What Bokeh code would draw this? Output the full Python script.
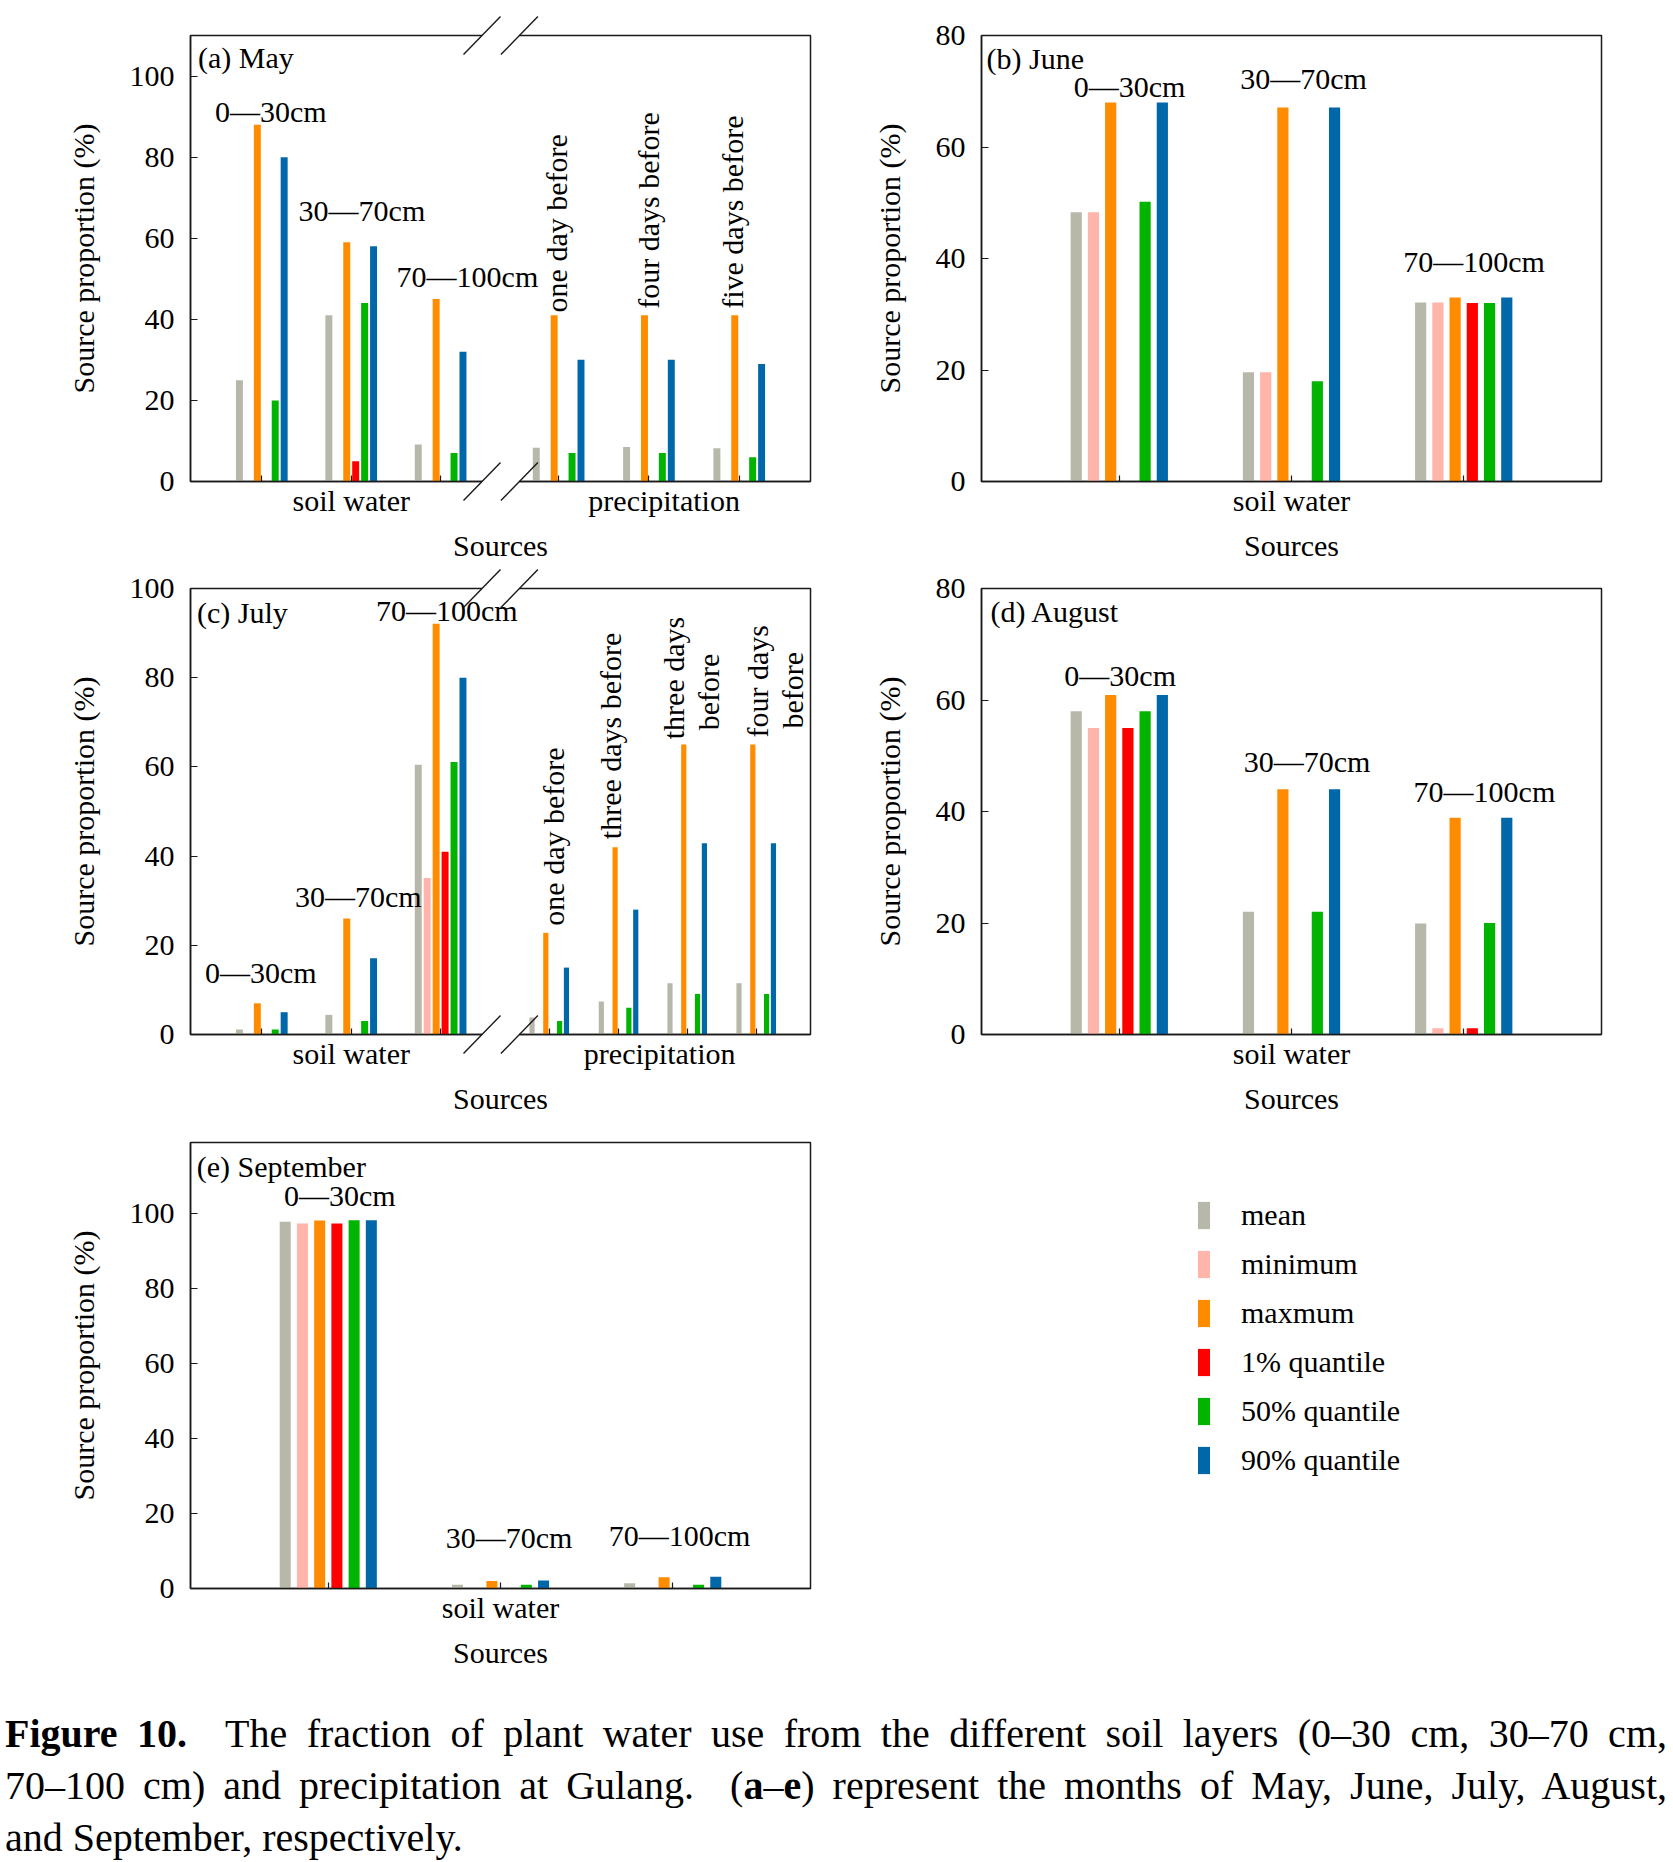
import math
from bokeh.plotting import figure
from bokeh.models import Range1d, FixedTicker, Legend, LegendItem, Div, ColumnDataSource
from bokeh.layouts import column, row
from bokeh.embed import file_html
from bokeh.resources import INLINE
from bokeh.core.properties import value

# ---------------- data ----------------
SERIES = ["mean", "minimum", "maxmum", "1% quantile", "50% quantile", "90% quantile"]
COLORS = ["#b8b8aa", "#ffb5aa", "#ff8c00", "#ff0000", "#00b400", "#0067a8"]

# (a) May
MAY_GROUPS = ["0—30cm", "30—70cm", "70—100cm", "one day before", "four days before", "five days before"]
MAY_MEAN = [25, 41, 9.1, 8.3, 8.5, 8.2]
MAY_MIN = [0, 0, 0, 0, 0, 0]
MAY_MAX = [88, 59, 45, 41, 41, 41]
MAY_Q1 = [0, 5, 0, 0, 0, 0]
MAY_Q50 = [20, 44, 7, 7, 7, 6]
MAY_Q90 = [80, 58, 32, 30, 30, 29]

# (b) June
JUN_GROUPS = ["0—30cm", "30—70cm", "70—100cm"]
JUN_MEAN = [48.3, 19.6, 32.1]
JUN_MIN = [48.3, 19.6, 32.1]
JUN_MAX = [68, 67.1, 33]
JUN_Q1 = [0, 0, 32]
JUN_Q50 = [50.2, 18, 32]
JUN_Q90 = [68, 67.1, 33]

# (c) July
JUL_GROUPS = ["0—30cm", "30—70cm", "70—100cm", "one day before", "three days before",
              "three days\nbefore", "four days\nbefore"]
JUL_MEAN = [1.1, 4.4, 60.5, 3.8, 7.4, 11.5, 11.5]
JUL_MIN = [0, 0, 35.1, 0, 0, 0, 0]
JUL_MAX = [7, 26, 92.1, 22.8, 42, 65, 65]
JUL_Q1 = [0, 0, 41, 0, 0, 0, 0]
JUL_Q50 = [1.1, 3, 61.1, 3, 6, 9.1, 9.1]
JUL_Q90 = [5, 17.1, 80, 15, 28, 42.9, 42.9]

# (d) August
AUG_GROUPS = ["0—30cm", "30—70cm", "70—100cm"]
AUG_MEAN = [58, 22, 19.9]
AUG_MIN = [55, 0, 1.1]
AUG_MAX = [60.9, 44, 38.9]
AUG_Q1 = [55, 0, 1.1]
AUG_Q50 = [58, 22, 20]
AUG_Q90 = [60.9, 44, 38.9]

# (e) September
SEP_GROUPS = ["0—30cm", "30—70cm", "70—100cm"]
SEP_MEAN = [97.7, 1.0, 1.4]
SEP_MIN = [97.2, 0, 0]
SEP_MAX = [98, 2, 3]
SEP_Q1 = [97.2, 0, 0]
SEP_Q50 = [98.1, 1, 1]
SEP_Q90 = [98.1, 2.1, 3.1]

CATEGORY_SOIL = "soil water"
CATEGORY_PREC = "precipitation"

# ---------------- layout / style ----------------
FONT = "Liberation Serif"
FS = "30px"
AX = "#1a1a1a"
FRAME_W = 620
FRAME_H = 446

# group centre positions on the x scale
POS3 = [1, 2, 3]
MAY_POS = [1, 2, 3, 4.32, 5.33, 6.34]
JUL_POS = [1, 2, 3, 4.215, 4.99, 5.758, 6.53]
XR_BREAK = (0.2025, 7.137)
XR3 = (0.2, 3.8)
BREAK_X = (3.463, 3.881)

# label positions per group, one entry per text line:
# horizontal labels -> (x centre, y centre); rotated labels -> (x centre, y start)
MAY_LAB = [[(1.10, 91.2)], [(2.12, 66.9)], [(3.30, 50.5)],
           [(4.30, 41.7)], [(5.33, 42.6)], [(6.26, 42.6)]]
MAY_ROT = [False, False, False, True, True, True]
JUN_LAB = [[(1.06, 70.9)], [(2.07, 72.2)], [(3.06, 39.4)]]
JUL_LAB = [[(0.988, 13.9)], [(2.08, 30.9)], [(3.07, 95.1)], [(4.26, 24.4)], [(4.90, 43.8)],
           [(5.60, 66.2), (6.00, 68.2)], [(6.54, 66.6), (6.94, 68.6)]]
JUL_ROT = [False, False, False, True, True, True, True]
AUG_LAB = [[(1.005, 64.4)], [(2.09, 48.9)], [(3.12, 43.6)]]
SEP_LAB = [[(1.067, 104.8)], [(2.05, 13.7)], [(3.04, 14.2)]]
ROT3 = [False, False, False]

LEFT_W, RIGHT_W = 830, 843
MBL_L, MBR_L = 190, 20
MBL_R, MBR_R = 151, 72
MB_BOTTOM = 87
ROW_TOP = [35, 20, 21]


def make_panel(tag, tag_dx, tag_dy, width, height, mbl, mbr, mbt, mbb, xr, ymax, yticks,
               pos, steps, widths, series, groups, labs, rots, cat_pos, cat_txt, brk=False):
    p = figure(width=width, height=height, x_range=Range1d(*xr), y_range=Range1d(0, ymax),
               output_backend="svg", toolbar_location=None,
               min_border_left=mbl, min_border_right=mbr, min_border_top=mbt, min_border_bottom=mbb)
    p.xgrid.visible = False
    p.ygrid.visible = False
    p.outline_line_color = AX
    p.outline_line_width = 1.5
    p.background_fill_color = "white"
    p.border_fill_color = "white"

    # bars
    for s, vals in enumerate(series):
        xs = [pos[g] + (s - 2.5) * steps[g] for g in range(len(pos))]
        src = ColumnDataSource(dict(x=xs, top=vals, w=widths))
        p.vbar(x="x", top="top", width="w", bottom=0, source=src,
               fill_color=COLORS[s], line_color=None)

    # group labels
    for g, txt in enumerate(groups):
        lines = txt.split("\n")
        for k, line in enumerate(lines):
            lx, ly = labs[g][k]
            if rots[g]:
                p.text(x=[lx], y=[ly], text=[line], angle=math.pi / 2, text_align="left",
                       text_baseline="middle", text_font=value(FONT), text_font_size=FS,
                       text_color="black")
            else:
                p.text(x=[lx], y=[ly], text=[line], text_align="center",
                       text_baseline="middle", text_font=value(FONT), text_font_size=FS,
                       text_color="black")

    # panel tag
    xpp = (xr[1] - xr[0]) / FRAME_W
    ypp = ymax / float(FRAME_H)
    p.text(x=[xr[0] + tag_dx * xpp], y=[ymax - tag_dy * ypp], text=[tag], text_align="left",
           text_baseline="middle", text_font=value(FONT), text_font_size=FS, text_color="black")

    # y axis
    ya = p.yaxis[0]
    ya.ticker = FixedTicker(ticks=yticks)
    ya.major_tick_in = 7
    ya.major_tick_out = 0
    ya.minor_tick_line_color = None
    ya.axis_line_color = AX
    ya.axis_line_width = 1.5
    ya.major_tick_line_color = AX
    ya.major_tick_line_width = 1.2
    ya.major_label_standoff = 16
    ya.major_label_text_font = FONT
    ya.major_label_text_font_size = FS
    ya.major_label_text_color = "black"
    ya.axis_label = "Source proportion (%)"
    ya.axis_label_text_font = FONT
    ya.axis_label_text_font_size = FS
    ya.axis_label_text_font_style = "normal"
    ya.axis_label_text_color = "black"
    ya.axis_label_standoff = 27

    # x axis
    xa = p.xaxis[0]
    xa.ticker = FixedTicker(ticks=cat_pos, minor_ticks=pos)
    xa.major_label_overrides = {cp: ct for cp, ct in zip(cat_pos, cat_txt)}
    xa.major_tick_line_color = None
    xa.major_tick_in = 0
    xa.major_tick_out = 0
    xa.minor_tick_in = 6
    xa.minor_tick_out = 0
    xa.minor_tick_line_color = AX
    xa.minor_tick_line_width = 1.2
    xa.axis_line_color = AX
    xa.axis_line_width = 1.5
    xa.major_label_standoff = 2
    xa.major_label_text_font = FONT
    xa.major_label_text_font_size = FS
    xa.major_label_text_color = "black"
    xa.axis_label = "Sources"
    xa.axis_label_text_font = FONT
    xa.axis_label_text_font_size = FS
    xa.axis_label_text_font_style = "normal"
    xa.axis_label_text_color = "black"
    xa.axis_label_standoff = 9

    if brk:
        hx = 18.5 * xpp
        hy = 19 * ypp
        for y0 in (0, ymax):
            p.segment(x0=[BREAK_X[0]], y0=[y0], x1=[BREAK_X[1]], y1=[y0],
                      line_color="white", line_width=4, level="overlay")
            p.segment(x0=[bx - hx for bx in BREAK_X], y0=[y0 - hy, y0 - hy],
                      x1=[bx + hx for bx in BREAK_X], y1=[y0 + hy, y0 + hy],
                      line_color=AX, line_width=1.4, level="overlay")
    return p


H = [ROW_TOP[i] + FRAME_H + MB_BOTTOM for i in range(3)]

fa = make_panel("(a) May", 7.5, 21.5, LEFT_W, H[0], MBL_L, MBR_L, ROW_TOP[0], MB_BOTTOM, XR_BREAK, 110,
                [0, 20, 40, 60, 80, 100], MAY_POS, [0.1] * 6, [0.078] * 6,
                [MAY_MEAN, MAY_MIN, MAY_MAX, MAY_Q1, MAY_Q50, MAY_Q90], MAY_GROUPS, MAY_LAB, MAY_ROT,
                [2, 5.5], [CATEGORY_SOIL, CATEGORY_PREC], brk=True)
fb = make_panel("(b) June", 5, 23, RIGHT_W, H[0], MBL_R, MBR_R, ROW_TOP[0], MB_BOTTOM, XR3, 80,
                [0, 20, 40, 60, 80], POS3, [0.1] * 3, [0.065] * 3,
                [JUN_MEAN, JUN_MIN, JUN_MAX, JUN_Q1, JUN_Q50, JUN_Q90], JUN_GROUPS, JUN_LAB, ROT3,
                [2], [CATEGORY_SOIL])
fc = make_panel("(c) July", 6.5, 23.7, LEFT_W, H[1], MBL_L, MBR_L, ROW_TOP[1], MB_BOTTOM, XR_BREAK, 100,
                [0, 20, 40, 60, 80, 100], JUL_POS, [0.1, 0.1, 0.1, 0.077, 0.077, 0.077, 0.077],
                [0.078, 0.078, 0.078, 0.058, 0.058, 0.058, 0.058],
                [JUL_MEAN, JUL_MIN, JUL_MAX, JUL_Q1, JUL_Q50, JUL_Q90], JUL_GROUPS, JUL_LAB, JUL_ROT,
                [2, 5.45], [CATEGORY_SOIL, CATEGORY_PREC], brk=True)
fd = make_panel("(d) August", 9, 23.4, RIGHT_W, H[1], MBL_R, MBR_R, ROW_TOP[1], MB_BOTTOM, XR3, 80,
                [0, 20, 40, 60, 80], POS3, [0.1] * 3, [0.065] * 3,
                [AUG_MEAN, AUG_MIN, AUG_MAX, AUG_Q1, AUG_Q50, AUG_Q90], AUG_GROUPS, AUG_LAB, ROT3,
                [2], [CATEGORY_SOIL])
fe = make_panel("(e) September", 6.3, 24.1, LEFT_W, H[2], MBL_L, MBR_L, ROW_TOP[2], MB_BOTTOM, XR3, 118.8,
                [0, 20, 40, 60, 80, 100], POS3, [0.1] * 3, [0.064] * 3,
                [SEP_MEAN, SEP_MIN, SEP_MAX, SEP_Q1, SEP_Q50, SEP_Q90], SEP_GROUPS, SEP_LAB, ROT3,
                [2], [CATEGORY_SOIL])

# legend panel (same frame geometry as the panel above it)
fl = figure(width=RIGHT_W, height=H[2], x_range=Range1d(0, 1), y_range=Range1d(0, 1),
            output_backend="svg", toolbar_location=None, x_axis_location=None, y_axis_location=None,
            min_border_left=MBL_R, min_border_right=MBR_R, min_border_top=ROW_TOP[2],
            min_border_bottom=MB_BOTTOM)
fl.outline_line_color = None
fl.xgrid.visible = False
fl.ygrid.visible = False
rends = [fl.vbar(x=[0.5], top=[0], bottom=0, width=0.1, fill_color=c, line_color=None) for c in COLORS]
leg = Legend(items=[LegendItem(label=s, renderers=[r]) for s, r in zip(SERIES, rends)],
             location=(215, 111), orientation="vertical", glyph_width=15, glyph_height=34,
             label_standoff=30, spacing=15, padding=0, margin=0, border_line_color=None,
             background_fill_alpha=0, label_text_font=FONT, label_text_font_size=FS,
             label_text_color="black", label_height=30)
fl.add_layout(leg)

cap_html = (
    '<div style="font-family:\'Liberation Serif\',serif;font-size:40px;line-height:52px;'
    'color:#000;padding-top:28px;width:1662px">'
    '<div style="text-align:justify;text-align-last:justify;white-space:nowrap">'
    '<b>Figure 10.</b>&nbsp; The fraction of plant water use from the different soil layers '
    '(0–30 cm, 30–70 cm,</div>'
    '<div style="text-align:justify;text-align-last:justify;white-space:nowrap">'
    '70–100 cm) and precipitation at Gulang.&nbsp; (<b>a</b>–<b>e</b>) represent the months of '
    'May, June, July, August,</div>'
    '<div style="text-align:left;white-space:nowrap">and September, respectively.</div>'
    '</div>'
)
cap = Div(text=cap_html, width=1664, height=1862 - sum(H))

layout = column(row(fa, fb), row(fc, fd), row(fe, fl), cap)
open("out.html", "w").write(file_html(layout, INLINE))
